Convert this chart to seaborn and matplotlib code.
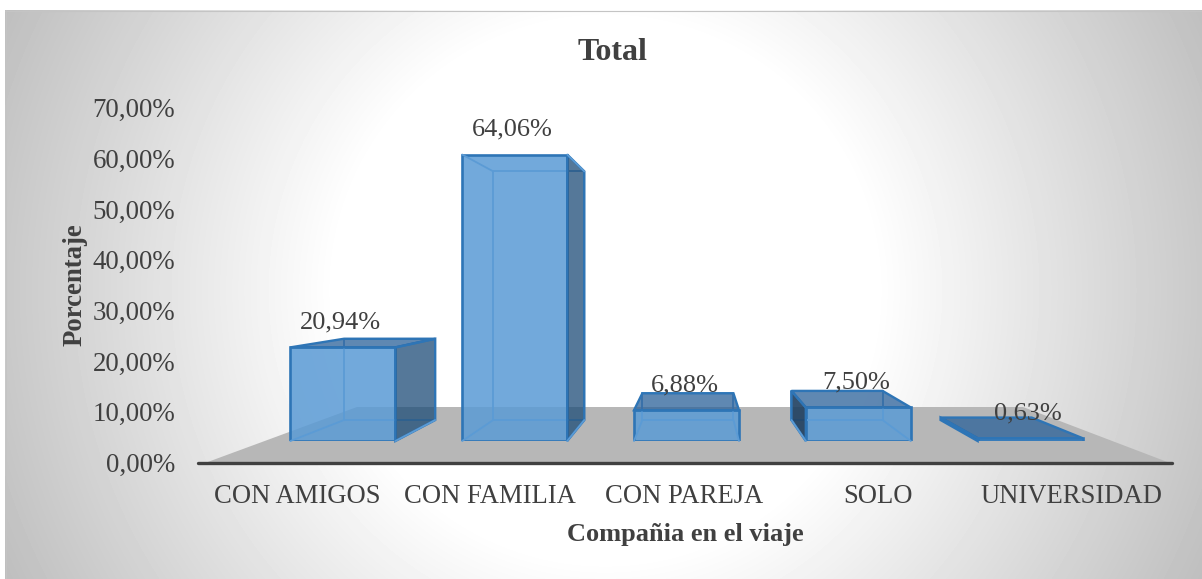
import numpy as np
import matplotlib
matplotlib.use('Agg')
import matplotlib.pyplot as plt
import seaborn as sns
from matplotlib.colors import to_rgba
from matplotlib.patches import Polygon

categories = ['CON AMIGOS', 'CON FAMILIA', 'CON PAREJA', 'SOLO', 'UNIVERSIDAD']
values = [20.94, 64.06, 6.88, 7.50, 0.63]
value_labels = ['20,94%', '64,06%', '6,88%', '7,50%', '0,63%']
y_ticks = [0, 10, 20, 30, 40, 50, 60, 70]
y_tick_labels = ['0,00%', '10,00%', '20,00%', '30,00%', '40,00%', '50,00%', '60,00%', '70,00%']

W, H = 1202, 579
TEXT = '#404040'
BLUE = '#5B9BD5'
EDGE = '#2E75B6'

# perspective of the excel 3d chart, in pixels
VX, VY = 697, 282
DEPTH = 0.868

sns.set_theme(style='white')
plt.rcParams['font.family'] = ['Liberation Serif', 'DejaVu Serif']

fig = plt.figure(figsize=(W / 100, H / 100), dpi=100, facecolor='white')


def px_axes(z):
    a = fig.add_axes([0, 0, 1, 1], zorder=z)
    a.set_xlim(0, W)
    a.set_ylim(H, 0)
    a.axis('off')
    return a


def box_axes(left, right, top, bottom, z):
    return fig.add_axes([left / W, 1 - bottom / H, (right - left) / W, (bottom - top) / H], zorder=z)


back = px_axes(0)
front = px_axes(3)

# radial grey background
yy, xx = np.mgrid[10:H, 5:W]
r = np.hypot(xx - 605, yy - 290)
shade = 255 - np.clip((r - 270) / 390, 0, 1) * 64
back.imshow(shade, cmap='gray', vmin=0, vmax=255, extent=(5, W, H, 10), aspect='auto', interpolation='bilinear')
back.set_xlim(0, W)
back.set_ylim(H, 0)
back.plot([5, W], [10.5, 10.5], color='#c4c4c4', lw=0.8)
back.plot([5.5, 5.5], [10, H], color='#c4c4c4', lw=0.6)

# floor
back.add_patch(Polygon([(205, 463), (357, 407), (1023, 407), (1170, 463)], fc='#b7b7b7', ec='none'))

# axis with the ticks
ax = box_axes(198, 1172, 107.5, 462.5, 1)
ax.patch.set_alpha(0)
ax.set_xlim(-0.51, 4.52)
ax.set_ylim(0, 70)
ax.set_xticks(range(len(categories)))
ax.set_xticklabels(categories, fontsize=19.2, color=TEXT)
ax.set_yticks(y_ticks)
ax.set_yticklabels(y_tick_labels, fontsize=19.4, color=TEXT)
ax.tick_params(axis='both', length=0)
ax.tick_params(axis='x', pad=15.5)
ax.tick_params(axis='y', pad=16.5)
sns.despine(ax=ax, left=True)
ax.spines['bottom'].set_color('#404040')
ax.spines['bottom'].set_linewidth(2.4)
ax.spines['bottom'].set_capstyle('round')

# front faces of the bars
bar_ax = box_axes(257, 1116, 128, 441, 2)
sns.barplot(x=categories, y=values, ax=bar_ax, color=BLUE, saturation=1, width=0.611,
            edgecolor=EDGE, linewidth=1.9)
bar_ax.set_xlim(-0.5, 4.5)
bar_ax.set_ylim(0, 70)
bar_ax.patch.set_alpha(0)
bar_ax.axis('off')
fig.canvas.draw()


def to_px(x, y):
    dx, dy = bar_ax.transData.transform((x, y))
    return dx, H - dy


def deep(p):
    return (VX + DEPTH * (p[0] - VX), VY + DEPTH * (p[1] - VY))


for bar, txt in zip(bar_ax.patches, value_labels):
    bar.set_facecolor(to_rgba(BLUE, 0.86))
    bar.set_edgecolor(EDGE)
    x0, x1 = bar.get_x(), bar.get_x() + bar.get_width()
    v = bar.get_height()
    fl, fr = to_px(x0, 0), to_px(x1, 0)
    tl, tr = to_px(x0, v), to_px(x1, v)
    bl, br, btl, btr = deep(fl), deep(fr), deep(tl), deep(tr)

    # hidden edges, seen through the front
    if v > 2:
        front.add_patch(Polygon([bl, br, btr, btl], fill=False, ec=BLUE, lw=1.3))
        front.plot([fl[0], bl[0]], [fl[1], bl[1]], color=BLUE, lw=1.3)
        front.plot([fr[0], br[0]], [fr[1], br[1]], color=BLUE, lw=1.3)
    if btl[1] > tl[1]:
        front.plot([tl[0], btl[0]], [tl[1], btl[1]], color=BLUE, lw=1.3)
        front.plot([tr[0], btr[0]], [tr[1], btr[1]], color=BLUE, lw=1.3)

    # faces turned to the viewer
    if br[0] > fr[0]:
        front.add_patch(Polygon([fr, br, btr, tr], fc='#1F4E79', alpha=0.76, ec='none'))
        front.add_patch(Polygon([fr, br, btr, tr], fill=False, ec=EDGE, lw=1.7))
    if bl[0] < fl[0]:
        front.add_patch(Polygon([fl, bl, btl, tl], fc='#1F3F60', alpha=0.9, ec='none'))
        front.add_patch(Polygon([fl, bl, btl, tl], fill=False, ec=EDGE, lw=1.7))
    if btl[1] < tl[1]:
        front.add_patch(Polygon([tl, tr, btr, btl], fc='#2A6099', alpha=0.75, ec='none'))
        front.add_patch(Polygon([tl, tr, btr, btl], fill=False, ec=EDGE, lw=1.7))

    cx, cy = to_px((x0 + x1) / 2, v)
    front.text(cx - 2, cy - 25, txt, ha='center', va='center', fontsize=19, color=TEXT, zorder=10)

front.set_xlim(0, W)
front.set_ylim(H, 0)
front.text(612, 52, 'Total', ha='center', va='center', fontsize=23, fontweight='bold', color=TEXT)
front.text(685, 535, 'Compañia en el viaje', ha='center', va='center', fontsize=19, fontweight='bold', color=TEXT)
front.text(75, 285, 'Porcentaje', ha='center', va='center', rotation=90, fontsize=19.3, fontweight='bold', color=TEXT)

fig.savefig('out.png', dpi=100)
